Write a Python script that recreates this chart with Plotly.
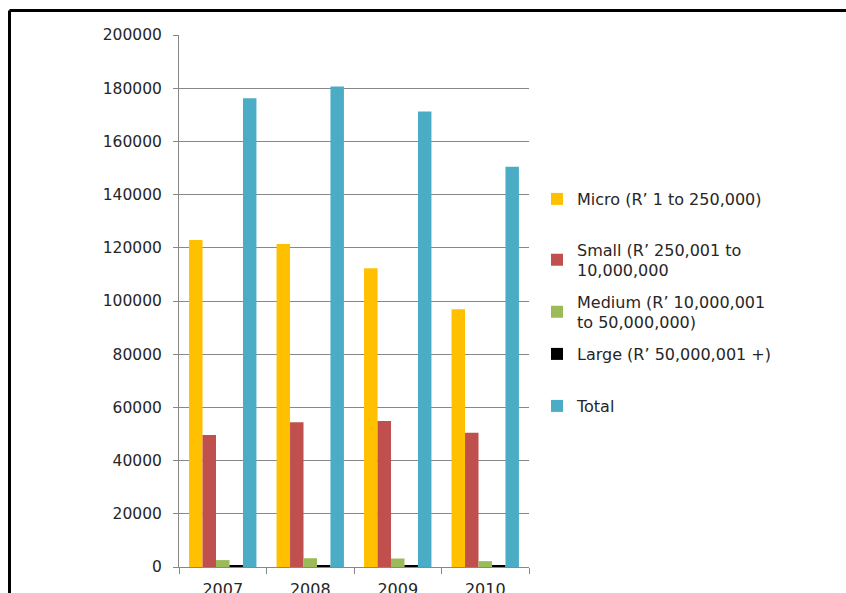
import plotly.graph_objects as go

# Number of businesses by size band, 2007-2010
years = ["2007", "2008", "2009", "2010"]
micro = [122900, 121400, 112300, 96900]
small = [49600, 54400, 54900, 50500]
medium = [2600, 3300, 3200, 2200]
large = [600, 650, 600, 500]
total = [176200, 180600, 171200, 150500]

series_names = [
    "Micro (R’ 1 to 250,000)",
    "Small (R’ 250,001 to<br>10,000,000",
    "Medium (R’ 10,000,001<br>to 50,000,000)",
    "Large (R’ 50,000,001 +)",
    "Total",
]
series_values = [micro, small, medium, large, total]
series_colors = ["#FFC000", "#C0504D", "#9BBB59", "#000000", "#4BACC6"]
legend_ids = ["legend", "legend2", "legend3", "legend4", "legend5"]

W, H = 846, 593
L, R, T, B = 179, 529, 35, 567  # plot area in pixels


def px_x(p):
    return (p - L) / (R - L)


def px_y(p):
    return (B - p) / (B - T)


FONT = "DejaVu Sans"
TXT = "#262626"
AX = "#888888"

fig = go.Figure()
for name, vals, col, lg in zip(series_names, series_values, series_colors, legend_ids):
    fig.add_trace(go.Bar(
        x=years, y=vals, name=name, legend=lg,
        marker=dict(color=col, line=dict(width=0)),
    ))

# legend item vertical centres (pixels)
legend_centres = [199, 260, 312, 354, 406]
layout_legends = {}
for lg, cy in zip(legend_ids, legend_centres):
    layout_legends[lg] = dict(
        x=px_x(537), y=px_y(cy), xanchor="left", yanchor="middle",
        xref="paper", yref="paper",
        font=dict(family=FONT, size=16, color=TXT),
        bgcolor="rgba(0,0,0,0)", borderwidth=0,
        itemclick=False, itemdoubleclick=False,
    )

fig.update_layout(
    width=W, height=H,
    margin=dict(l=L, r=W - R, t=T, b=H - B, pad=0, autoexpand=False),
    paper_bgcolor="white", plot_bgcolor="white",
    barmode="group", bargap=0.23, bargroupgap=0,
    showlegend=True,
    font=dict(family=FONT, size=15.5, color=TXT),
    **layout_legends,
)

fig.update_yaxes(
    range=[0, 200000], dtick=20000, tickformat="d",
    showgrid=True, gridcolor=AX, gridwidth=1,
    showline=True, linecolor=AX, linewidth=1,
    ticks="outside", ticklen=5, tickcolor=AX,
    zeroline=False, ticklabelstandoff=8, automargin=False,
    tickfont=dict(family=FONT, size=15.5, color=TXT),
)
fig.update_xaxes(
    showline=True, linecolor=AX, linewidth=1,
    ticks="outside", ticklen=6, tickcolor=AX, tickson="boundaries",
    showgrid=False, automargin=False, ticklabelstandoff=8,
    tickfont=dict(family=FONT, size=16, color=TXT),
)

# black frame along the left and top edges of the page
fig.add_shape(type="line", xref="paper", yref="paper",
              x0=px_x(9.5), x1=px_x(W + 5), y0=px_y(10.5), y1=px_y(10.5),
              line=dict(color="black", width=3))
fig.add_shape(type="line", xref="paper", yref="paper",
              x0=px_x(9.5), x1=px_x(9.5), y0=px_y(10.5), y1=px_y(H + 5),
              line=dict(color="black", width=3))

fig.write_html("out.html")
